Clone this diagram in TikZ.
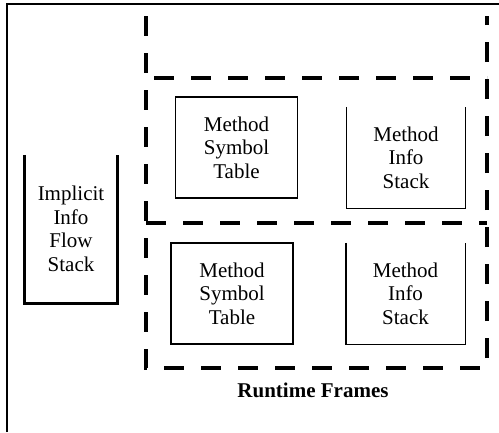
\documentclass[tikz,border=0pt]{standalone}
\usepackage{fontspec}
\setmainfont{Liberation Serif}
\begin{document}
\begin{tikzpicture}[x=1pt,y=-1pt,
		txt/.style={align=center,font=\fontsize{21}{23.5}\selectfont},
		table/.style={txt,draw=black,line width=1.4pt,minimum width=122pt,minimum height=101pt},
		stack/.style={txt,minimum width=119pt,minimum height=101pt},
		frame/.style={line width=4.5pt,dash pattern=on 20pt off 17pt}]
			\useasboundingbox (0,0) rectangle (499,432);
			\draw[line width=1.4pt] (7,432) -- (7,4) -- (499,4);
			
			% implicit flow
			
			\node[txt,minimum width=92pt,minimum height=148pt] (IFS) at (71,229) {Implicit\\Info\\Flow\\Stack};
			\draw[line width=3pt] (IFS.north west) -- (IFS.south west) -- (IFS.south east) -- (IFS.north east);
			
			% runtime frames
			
			\draw[frame] (146,16) -- (146,368) -- (487,368) -- (487,16);
			\draw[frame] (154,78) -- (487,78);
			\draw[frame] (146,223) -- (487,223);
			
			\node[table] (T1) at (236.5,147.5) {Method\\Symbol\\Table};
			\node[stack] (S1) at (406,157.5) {Method\\Info\\Stack};
			\node[table] (T2) at (232,293.5) {Method\\Symbol\\Table};
			\node[stack] (S2) at (405.5,293.5) {Method\\Info\\Stack};
			\foreach \s in {S1,S2} {
				\draw[line width=1.4pt] (\s.north west) -- (\s.south west) -- (\s.south east) -- (\s.north east);
			}
			
			\node[txt,font=\fontsize{21}{23.5}\selectfont\bfseries] (RF) at (313,390) {Runtime Frames};
		\end{tikzpicture}
\end{document}
